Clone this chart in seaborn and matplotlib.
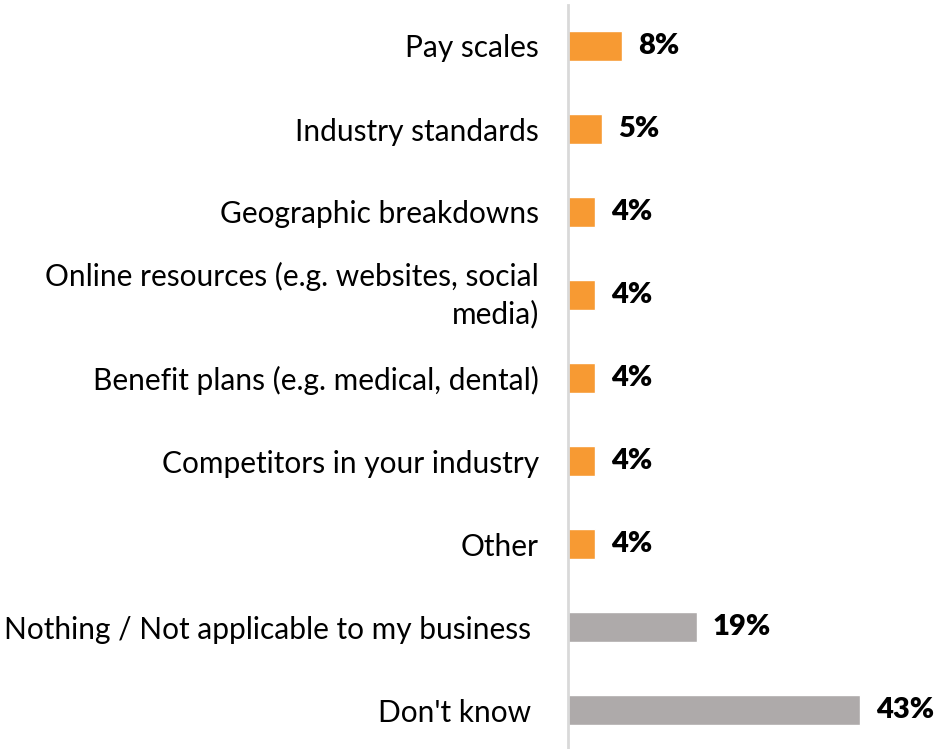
import matplotlib
matplotlib.use("Agg")
import matplotlib.pyplot as plt
import seaborn as sns
import pandas as pd

categories = [
    "Pay scales",
    "Industry standards",
    "Geographic breakdowns",
    "Online resources (e.g. websites, social\nmedia)",
    "Benefit plans (e.g. medical, dental)",
    "Competitors in your industry",
    "Other",
    "Nothing / Not applicable to my business ",
    "Don't know ",
]
values = [8, 5, 4, 4, 4, 4, 4, 19, 43]
groups = ["source"] * 7 + ["none"] * 2

palette = {"source": "#F79A33", "none": "#AEAAAA"}

sns.set_theme(style="white")
plt.rcParams["font.family"] = ["Lato", "DejaVu Sans"]

df = pd.DataFrame({"category": categories, "value": values, "group": groups})

fig = plt.figure(figsize=(9.49, 7.49), dpi=100)
ax = fig.add_axes([568 / 949, -2.5 / 749, (930 - 568) / 949, 747 / 749])

sns.barplot(data=df, y="category", x="value", hue="group", palette=palette,
            dodge=False, width=0.36, saturation=1, legend=False, ax=ax, orient="h")

ax.set_xlim(0, 43 * (930 - 568) / (860 - 568))
ax.set_ylim(8.5, -0.5)
ax.set_xlabel("")
ax.set_ylabel("")
ax.set_xticks([])

for side in ("top", "right", "bottom"):
    ax.spines[side].set_visible(False)
ax.spines["left"].set_color("#D9D9D9")
ax.spines["left"].set_linewidth(2)

ax.tick_params(axis="y", length=0, pad=21, labelsize=21.5, labelcolor="black")
for lbl in ax.get_yticklabels():
    lbl.set_linespacing(1.35)
    if "\n" in lbl.get_text():
        lbl.set_verticalalignment("center")

for i, v in enumerate(values):
    ax.annotate(f"{v}%", xy=(v, i), xytext=(11.5, 0), textcoords="offset points",
                ha="left", va="center", fontsize=21, fontweight="heavy", color="black")

fig.savefig("out.png", dpi=100)
